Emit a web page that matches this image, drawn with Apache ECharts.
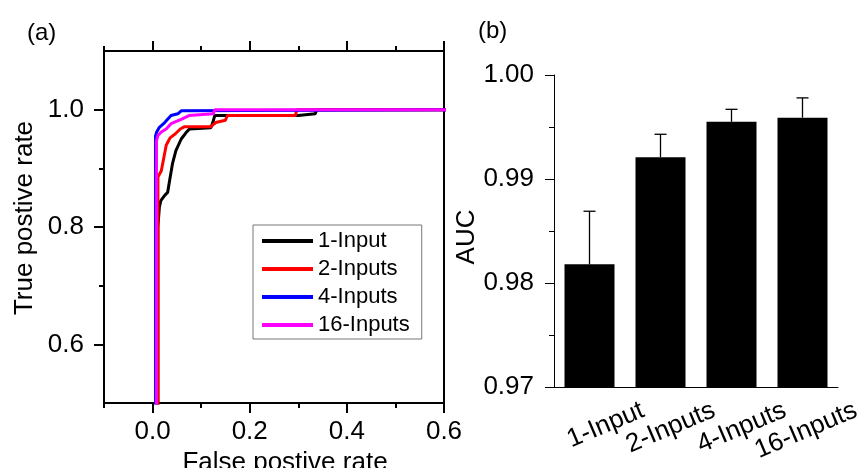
<!DOCTYPE html>
<html>
<head>
<meta charset="utf-8">
<script src="https://cdn.jsdelivr.net/npm/echarts@6/dist/echarts.min.js"></script>
<style>
  html, body { margin: 0; padding: 0; background: #fff; }
  #chart { width: 860px; height: 468px; }
</style>
</head>
<body>
<div id="chart"></div>
<script>
// ROC curves, points are [false positive rate, true positive rate]
var roc1Input = [[0.011, 0], [0.011, 0.80], [0.014, 0.834], [0.017, 0.845], [0.025, 0.854], [0.031, 0.859],
  [0.035, 0.879], [0.041, 0.908], [0.048, 0.930], [0.059, 0.950], [0.069, 0.961], [0.076, 0.967],
  [0.120, 0.969], [0.124, 0.978], [0.128, 0.990], [0.300, 0.990], [0.302, 0.993], [0.335, 0.993],
  [0.338, 1.0], [0.7, 1.0]];
var roc2Inputs = [[0.011, 0], [0.011, 0.885], [0.018, 0.896], [0.028, 0.939], [0.031, 0.944], [0.036, 0.952],
  [0.047, 0.959], [0.057, 0.967], [0.066, 0.971], [0.120, 0.971], [0.130, 0.978], [0.150, 0.982],
  [0.154, 0.990], [0.294, 0.990], [0.297, 1.0], [0.7, 1.0]];
var roc4Inputs = [[0.006, 0], [0.006, 0.955], [0.008, 0.961], [0.014, 0.970], [0.025, 0.978], [0.038, 0.990],
  [0.052, 0.993], [0.059, 0.998], [0.062, 1.0], [0.7, 1.0]];
var roc16Inputs = [[0.008, 0], [0.008, 0.947], [0.011, 0.956], [0.018, 0.962], [0.028, 0.967], [0.038, 0.976],
  [0.060, 0.984], [0.075, 0.990], [0.125, 0.993], [0.128, 1.0], [0.7, 1.0]];

var rocNames = ['1-Input', '2-Inputs', '4-Inputs', '16-Inputs'];
var rocColors = ['#000000', '#ff0000', '#0000ff', '#ff00ff'];
var rocXMajor = [0, 0.2, 0.4, 0.6];
var rocXMinor = [-0.1, 0.1, 0.3, 0.5];
var rocYMajor = [0.6, 0.8, 1.0];
var rocYMinor = [0.7, 0.9];

// AUC bars
var aucCategories = ['1-Input', '2-Inputs', '4-Inputs', '16-Inputs'];
var aucMean = [0.9818, 0.9921, 0.9955, 0.9959];
var aucErr = [0.0051, 0.0022, 0.0012, 0.0019];

var FONT = '"Liberation Sans", Arial, sans-serif';
var chart = echarts.init(document.getElementById('chart'));

function rocX(pos, ticks, len, showLine, showLabel) {
  return {
    type: 'value', gridIndex: 0, position: pos, min: -0.1, max: 0.6,
    axisLine: { show: showLine, onZero: false, lineStyle: { color: '#000', width: 2 } },
    axisTick: { show: true, customValues: ticks, length: len, lineStyle: { color: '#000', width: 2 } },
    axisLabel: { show: showLabel, customValues: ticks, margin: 16, fontSize: 26, color: '#000', fontFamily: FONT,
      formatter: function (v) { return v.toFixed(1); } },
    splitLine: { show: false }
  };
}
function rocY(pos, ticks, len, showLine, showLabel) {
  return {
    type: 'value', gridIndex: 0, position: pos, min: 0.5, max: 1.1,
    axisLine: { show: showLine, onZero: false, lineStyle: { color: '#000', width: 2 } },
    axisTick: { show: ticks.length > 0, customValues: ticks, length: len, lineStyle: { color: '#000', width: 2 } },
    axisLabel: { show: showLabel, customValues: ticks, margin: 20, fontSize: 26, color: '#000', fontFamily: FONT,
      formatter: function (v) { return v.toFixed(1); } },
    splitLine: { show: false }
  };
}

var xMain = rocX('bottom', rocXMajor, 10, true, true);
xMain.name = 'False postive rate';
xMain.nameLocation = 'middle';
xMain.nameGap = 37;
xMain.nameTextStyle = { fontSize: 26, color: '#000', fontFamily: FONT, padding: [0, 0, 0, 22] };

var yMain = rocY('left', rocYMajor, 10, true, true);
yMain.name = 'True postive rate';
yMain.nameLocation = 'middle';
yMain.nameGap = 66;
yMain.nameTextStyle = { fontSize: 26, color: '#000', fontFamily: FONT, padding: [0, 0, 0, 18] };

var rocSeries = [roc1Input, roc2Inputs, roc4Inputs, roc16Inputs].map(function (d, i) {
  return {
    type: 'line', name: rocNames[i], data: d, xAxisIndex: 0, yAxisIndex: 0,
    showSymbol: false, symbol: 'none', clip: true, color: rocColors[i],
    lineStyle: { width: 3, color: rocColors[i] }
  };
});

var option = {
  animation: false,
  backgroundColor: '#fff',
  title: [
    { text: '(a)', left: 27, top: 21, padding: 0, textStyle: { fontSize: 24, fontWeight: 'normal', color: '#000', fontFamily: FONT } },
    { text: '(b)', left: 478, top: 19, padding: 0, textStyle: { fontSize: 24, fontWeight: 'normal', color: '#000', fontFamily: FONT } }
  ],
  grid: [
    { left: 104, top: 51, width: 340, height: 352, outerBoundsMode: 'none' },
    { left: 554, top: 75, width: 284, height: 312, outerBoundsMode: 'none' }
  ],
  legend: {
    orient: 'vertical', left: 253, top: 225,
    data: rocNames.map(function (n) { return { name: n, icon: 'rect' }; }),
    itemWidth: 51, itemHeight: 4, itemGap: 4,
    textStyle: { fontSize: 22, lineHeight: 24, color: '#000', fontFamily: FONT },
    borderColor: '#777', borderWidth: 1, padding: [4, 12, 2, 9], backgroundColor: '#fff'
  },
  xAxis: [
    xMain,
    rocX('bottom', rocXMinor, 5, false, false),
    rocX('top', rocXMajor, 10, true, false),
    rocX('top', rocXMinor, 5, false, false),
    {
      type: 'category', gridIndex: 1, position: 'bottom', data: aucCategories,
      axisLine: { onZero: false, lineStyle: { color: '#000', width: 1 } },
      axisTick: { alignWithLabel: true, interval: 0, length: 11, lineStyle: { color: '#000', width: 1 } },
      axisLabel: {
        interval: 0, rotate: 23, align: 'left', verticalAlign: 'middle', margin: 45,
        formatter: function (v) { return '{a|' + v + '}'; },
        rich: { a: { width: 58, align: 'right', fontSize: 26, color: '#000', fontFamily: FONT } }
      },
      splitLine: { show: false }
    },
    {
      type: 'category', gridIndex: 1, position: 'bottom', data: aucCategories,
      axisLine: { show: false },
      axisTick: { alignWithLabel: false, interval: 0, length: 5, lineStyle: { color: '#000', width: 1 } },
      axisLabel: { show: false },
      splitLine: { show: false }
    }
  ],
  yAxis: [
    yMain,
    rocY('left', rocYMinor, 5, false, false),
    rocY('right', [], 0, true, false),
    {
      type: 'value', gridIndex: 1, position: 'left', min: 0.97, max: 1.0, interval: 0.01,
      name: 'AUC', nameLocation: 'middle', nameGap: 63,
      nameTextStyle: { fontSize: 26, color: '#000', fontFamily: FONT, padding: [0, 12, 0, 0] },
      axisLine: { show: true, onZero: false, lineStyle: { color: '#000', width: 1 } },
      axisTick: { show: true, length: 9, lineStyle: { color: '#000', width: 1 } },
      minorTick: { show: true, splitNumber: 2, length: 5, lineStyle: { color: '#000', width: 1 } },
      axisLabel: { margin: 20, fontSize: 26, color: '#000', fontFamily: FONT,
        formatter: function (v) { return v.toFixed(2); } },
      splitLine: { show: false },
      minorSplitLine: { show: false }
    }
  ],
  series: rocSeries.concat([
    {
      type: 'bar', data: aucMean, xAxisIndex: 4, yAxisIndex: 3, barWidth: 50,
      itemStyle: { color: '#000' }
    },
    {
      type: 'custom', xAxisIndex: 4, yAxisIndex: 3, z: 10,
      data: aucMean.map(function (m, i) { return [i, m, m + aucErr[i]]; }),
      encode: { x: 0, y: [1, 2] },
      renderItem: function (params, api) {
        var base = api.coord([api.value(0), api.value(1)]);
        var top = api.coord([api.value(0), api.value(2)]);
        var st = { stroke: '#000', lineWidth: 1.3 };
        return {
          type: 'group',
          children: [
            { type: 'line', shape: { x1: base[0], y1: base[1], x2: top[0], y2: top[1] }, style: st },
            { type: 'line', shape: { x1: top[0] - 6, y1: top[1], x2: top[0] + 6, y2: top[1] }, style: st }
          ]
        };
      }
    }
  ])
};

chart.setOption(option);
</script>
</body>
</html>
